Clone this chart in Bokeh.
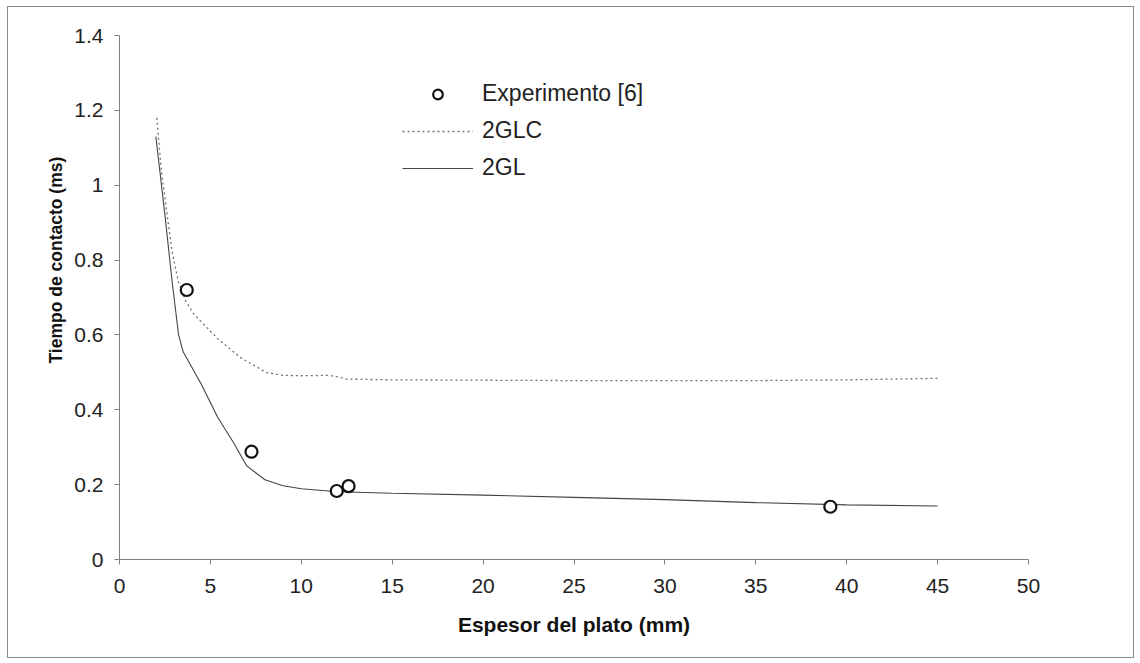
from bokeh.plotting import figure
from bokeh.models import (Range1d, FixedTicker, Legend, LegendItem, Title, InlineStyleSheet)
from bokeh.embed import file_html
from bokeh.resources import INLINE

# ---- data ----
x_exp = [3.7, 7.26, 11.95, 12.6, 39.1]
y_exp = [0.72, 0.288, 0.183, 0.196, 0.141]

x_2glc = [2.05, 2.3, 2.65, 2.9, 3.25, 3.65, 4.1, 5.4, 6.7, 8.1, 9.0, 10.0, 11.5, 12.0, 12.5, 15, 20, 25, 30, 35, 40, 45]
y_2glc = [1.18, 1.04, 0.91, 0.82, 0.74, 0.69, 0.655, 0.59, 0.538, 0.499, 0.492, 0.491, 0.492, 0.488, 0.482, 0.48, 0.479, 0.478, 0.478, 0.478, 0.48, 0.484]

x_2gl = [2.0, 2.5, 2.9, 3.25, 3.5, 4.5, 5.4, 6.3, 7.0, 8.0, 9.0, 10.0, 12.0, 15, 20, 25, 30, 35, 40, 45]
y_2gl = [1.13, 0.92, 0.74, 0.6, 0.555, 0.468, 0.38, 0.31, 0.25, 0.213, 0.197, 0.189, 0.181, 0.177, 0.172, 0.166, 0.16, 0.152, 0.146, 0.143]

x_ticks = [0, 5, 10, 15, 20, 25, 30, 35, 40, 45, 50]
y_ticks = [0, 0.2, 0.4, 0.6, 0.8, 1.0, 1.2, 1.4]

x_title = "Espesor del plato (mm)"
y_title = "Tiempo de contacto (ms)"
labels = ["Experimento [6]", "2GLC", "2GL"]

FONT = "Liberation Sans"

p = figure(width=1140, height=663, output_backend="svg", toolbar_location=None,
           x_range=Range1d(0, 50), y_range=Range1d(0, 1.4),
           min_border_left=119, min_border_right=112, min_border_top=35, min_border_bottom=104)
p.background_fill_color = "white"
p.border_fill_color = "white"
p.outline_line_color = None
p.grid.visible = False
p.stylesheets = [InlineStyleSheet(css="""
:host { position: relative; }
:host::after { content: ""; position: absolute; left: 7px; top: 6px; right: 6px; bottom: 5px;
               border: 1.5px solid #8a8a8a; pointer-events: none; z-index: 1000; }
""")]

for ax in (p.xaxis[0], p.yaxis[0]):
    ax.axis_line_color = "#808080"
    ax.major_tick_line_color = "#808080"
    ax.major_tick_in = 0
    ax.major_tick_out = 5
    ax.minor_tick_line_color = None
    ax.major_label_text_font = FONT
    ax.major_label_text_font_size = "21px"
    ax.major_label_text_color = "#222222"
    ax.axis_label_text_font = FONT
    ax.axis_label_text_font_size = "21px"
    ax.axis_label_text_font_style = "bold"
    ax.axis_label_text_color = "#111111"

p.xaxis.ticker = FixedTicker(ticks=x_ticks)
p.yaxis.ticker = FixedTicker(ticks=y_ticks)
p.yaxis.major_label_overrides = {0: "0", 1.0: "1"}
p.xaxis.axis_label = x_title
p.xaxis.major_label_standoff = 14
p.yaxis.major_label_standoff = 11
p.xaxis.axis_label_standoff = 17

# y-axis title placed where the reference has it (not centred on the frame)
ytitle = Title(text=y_title, align="left", offset=196, standoff=12,
               text_font=FONT, text_font_size="17.5px", text_font_style="bold",
               text_color="#111111")
p.add_layout(ytitle, "left")

r_glc = p.line(x_2glc, y_2glc, line_color="#6f6f6f", line_width=1.3, line_dash="2 3")
r_gl = p.line(x_2gl, y_2gl, line_color="#444444", line_width=1.1)
r_exp = p.scatter(x_exp, y_exp, marker="circle", size=12, fill_color="white",
                  line_color="#111111", line_width=2.2)

legend = Legend(items=[LegendItem(label=labels[0], renderers=[r_exp]),
                       LegendItem(label=labels[1], renderers=[r_glc]),
                       LegendItem(label=labels[2], renderers=[r_gl])],
                location=(283, 378), padding=0, margin=0, spacing=10,
                glyph_width=71, glyph_height=24, label_height=24, label_standoff=9,
                border_line_color=None, background_fill_alpha=0,
                label_text_font=FONT, label_text_font_size="23px", label_text_color="#222222")
p.add_layout(legend, "center")

open("out.html", "w").write(file_html(p, INLINE))
